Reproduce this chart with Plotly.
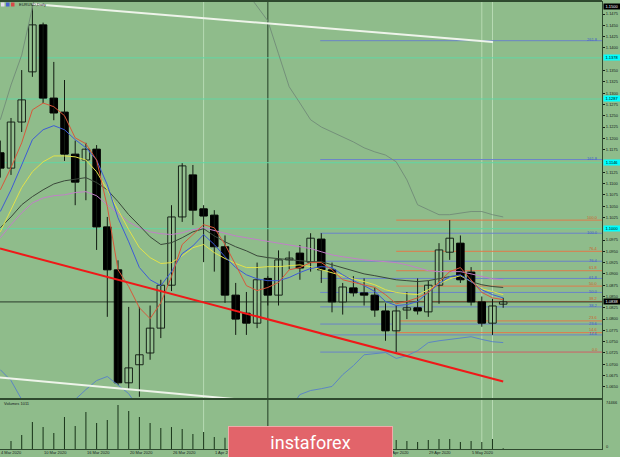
import plotly.graph_objects as go

# ---------------- data ----------------
bar_index = list(range(-1, 47))          # daily bars, 4 Mar 2020 .. 8 May 2020

opens = [1.1168, 1.1134, 1.1236, 1.1347, 1.1451, 1.1289, 1.1258, 1.1165, 1.1152, 1.1176,
         1.1004, 1.0909, 1.0659, 1.0699, 1.0725, 1.0780, 1.0875, 1.1026, 1.1119, 1.1044,
         1.1030, 1.0960, 1.0853, 1.0813, 1.0791, 1.0890, 1.0853, 1.0931, 1.0946, 1.0926,
         1.0977, 1.0909, 1.0838, 1.0869, 1.0858, 1.0853, 1.0818, 1.0774, 1.0820, 1.0825,
         1.0816, 1.0875, 1.0948, 1.0968, 1.0904, 1.0838, 1.0791, 1.0833]
highs = [1.1195, 1.1245, 1.1351, 1.1495, 1.1456, 1.1369, 1.1329, 1.1195, 1.1190, 1.1185,
         1.1026, 1.0930, 1.0827, 1.0827, 1.0830, 1.0887, 1.1052, 1.1145, 1.1141, 1.1052,
         1.1041, 1.0985, 1.0880, 1.0860, 1.0925, 1.0895, 1.0952, 1.0950, 1.0964, 1.0990,
         1.0990, 1.0925, 1.0880, 1.0895, 1.0890, 1.0870, 1.0835, 1.0830, 1.0860, 1.0890,
         1.0885, 1.0968, 1.1019, 1.0985, 1.0915, 1.0850, 1.0845, 1.0847]
lows = [1.1113, 1.1119, 1.1214, 1.1336, 1.1278, 1.1240, 1.1150, 1.1052, 1.1063, 1.0953,
        1.0805, 1.0654, 1.0643, 1.0628, 1.0710, 1.0758, 1.0862, 1.1015, 1.1008, 1.0926,
        1.0905, 1.0836, 1.0765, 1.0765, 1.0780, 1.0830, 1.0830, 1.0910, 1.0887, 1.0905,
        1.0880, 1.0815, 1.0810, 1.0850, 1.0830, 1.0805, 1.0752, 1.0727, 1.0800, 1.0810,
        1.0805, 1.0834, 1.0931, 1.0880, 1.0830, 1.0783, 1.0765, 1.0825]
closes = [1.1134, 1.1236, 1.1285, 1.1451, 1.1289, 1.1256, 1.1165, 1.1103, 1.1176, 1.1004,
          1.0909, 1.0659, 1.0692, 1.0721, 1.0780, 1.0875, 1.1026, 1.1139, 1.1041, 1.1028,
          1.0960, 1.0853, 1.0800, 1.0791, 1.0887, 1.0853, 1.0931, 1.0935, 1.0913, 1.0979,
          1.0909, 1.0838, 1.0871, 1.0858, 1.0853, 1.0820, 1.0774, 1.0818, 1.0825, 1.0818,
          1.0875, 1.0953, 1.0979, 1.0887, 1.0838, 1.0791, 1.0829, 1.0838]
volumes = [None, 12700, 22200, 42800, 34800, 25300, 50700, 36400, 58600, 41200,
           45900, 69700, 60200, 50700, 41200, 33300, 34800, 31700, 23800, 26900,
           19000, 18000, 17000, 15000, 16000, 14000, 13500, 8000, 12000, 14000,
           15000, 13000, 12500, 11000, 11500, 13000, 14500, 14300, 12700, 11100,
           14300, 15800, 15800, 11100, 12700, 11100, 15800, 1011]

ma_red = [1.1086, 1.1135, 1.1190, 1.1263, 1.1278, 1.1270, 1.1250, 1.1201, 1.1188, 1.1152,
          1.1049, 1.0909, 1.0872, 1.0825, 1.0801, 1.0836, 1.0894, 1.0965, 1.0987, 1.1009,
          1.1002, 1.0965, 1.0920, 1.0874, 1.0863, 1.0870, 1.0881, 1.0909, 1.0914, 1.0925,
          1.0925, 1.0909, 1.0887, 1.0881, 1.0876, 1.0870, 1.0854, 1.0834, 1.0839, 1.0847,
          1.0859, 1.0881, 1.0905, 1.0914, 1.0887, 1.0859, 1.0847, 1.0843]
ma_blue = [1.1038, 1.1086, 1.1141, 1.1197, 1.1219, 1.1228, 1.1219, 1.1197, 1.1179, 1.1152,
           1.1097, 1.1024, 1.0971, 1.0914, 1.0887, 1.0874, 1.0905, 1.0945, 1.0962, 1.0987,
           1.0965, 1.0938, 1.0914, 1.0898, 1.0889, 1.0885, 1.0885, 1.0892, 1.0903, 1.0912,
           1.0916, 1.0914, 1.0898, 1.0885, 1.0874, 1.0861, 1.0839, 1.0830, 1.0832, 1.0839,
           1.0859, 1.0878, 1.0894, 1.0898, 1.0883, 1.0865, 1.0854, 1.0847]
ma_yellow = [1.0993, 1.1042, 1.1091, 1.1126, 1.1148, 1.1161, 1.1161, 1.1159, 1.1152, 1.1126,
             1.1086, 1.1042, 1.0998, 1.0958, 1.0936, 1.0923, 1.0925, 1.0940, 1.0958, 1.0965,
             1.0947, 1.0934, 1.0923, 1.0914, 1.0914, 1.0916, 1.0916, 1.0918, 1.0920, 1.0916,
             1.0909, 1.0903, 1.0896, 1.0889, 1.0883, 1.0876, 1.0865, 1.0859, 1.0856, 1.0854,
             1.0865, 1.0878, 1.0889, 1.0896, 1.0883, 1.0867, 1.0861, 1.0854]
ma_dark = [1.1002, 1.1026, 1.1053, 1.1071, 1.1086, 1.1099, 1.1106, 1.1110, 1.1113, 1.1102,
           1.1086, 1.1060, 1.1031, 1.1007, 1.0982, 1.0965, 1.0969, 1.0980, 1.0993, 1.1000,
           1.0984, 1.0971, 1.0960, 1.0951, 1.0940, 1.0936, 1.0934, 1.0931, 1.0929, 1.0927,
           1.0927, 1.0920, 1.0914, 1.0907, 1.0900, 1.0896, 1.0892, 1.0887, 1.0885, 1.0883,
           1.0885, 1.0889, 1.0894, 1.0896, 1.0883, 1.0876, 1.0872, 1.0870]
ma_violet = [1.0980, 1.1009, 1.1035, 1.1057, 1.1068, 1.1073, 1.1075, 1.1080, 1.1082, 1.1073,
             1.1053, 1.1033, 1.1015, 1.1002, 1.0993, 1.0989, 1.0987, 1.0991, 1.0998, 1.1002,
             1.0996, 1.0989, 1.0984, 1.0980, 1.0976, 1.0973, 1.0969, 1.0965, 1.0960, 1.0956,
             1.0949, 1.0942, 1.0938, 1.0934, 1.0931, 1.0929, 1.0927, 1.0925, 1.0920, 1.0914,
             1.0907, 1.0905, 1.0905, 1.0905, 1.0900, 1.0894, 1.0889, 1.0887]
band_upper = [1.1241, 1.1318, 1.1384, 1.1495, 1.1595,
              None, None, None, None, None, None, None, None, None,
              None, None, None, None, None, None, None, None, None,
              1.1524, 1.1491, 1.1460, 1.1387, 1.1314, 1.1278, 1.1241, 1.1225, 1.1214, 1.1203,
              1.1192, 1.1179, 1.1170, 1.1163, 1.1148, 1.1108, 1.1053, 1.1042, 1.1031, 1.1031,
              1.1035, 1.1038, 1.1038, 1.1031, 1.1026]
band_lower = [1.0688, 1.0664, 1.0622, 1.0578, None, None, 1.0578, 1.0622, 1.0644, 1.0664,
              1.0673, 1.0653, 1.0635, 1.0600,
              None, None, None, None, None, None, None, None, None, None, None, None,
              1.0578, 1.0600, 1.0633, 1.0642, 1.0646, 1.0651, 1.0677, 1.0697, 1.0721, 1.0724,
              1.0726, 1.0713, 1.0719, 1.0730, 1.0748, 1.0752, 1.0755, 1.0757, 1.0761, 1.0755,
              1.0750, 1.0748]

level_lines = [1.1378, 1.1287, 1.1146, 1.1000]
level_text = ["1.1378", "1.1287", "1.1146", "1.1000"]
current_price = 1.0838
current_text = "1.0838"
top_text = "1.1500"

fib_blue_start = 28.9
fib_blue_levels = [1.0727, 1.0765, 1.0789, 1.0827, 1.0859, 1.0890, 1.0928, 1.0990, 1.1153, 1.1416]
fib_blue_text = ["", "14.6", "23.6", "38.2", "50.0", "61.8", "76.4", "100.0", "161.8", "261.8"]
fib_orange_start = 36.0
fib_orange_levels = [1.0727, 1.0770, 1.0796, 1.0839, 1.0873, 1.0907, 1.0950, 1.1019]
fib_orange_text = ["0.0", "14.6", "23.6", "38.2", "50.0", "61.8", "76.4", "100.0"]

trend_red_x = [-1.03, 46.0]
trend_red_y = [1.0956, 1.0662]
trend_upper_x = [2.0, 45.05]
trend_upper_y = [1.1497, 1.1413]
trend_lower_x = [-1.03, 21.4]
trend_lower_y = [1.0671, 1.0622]

vline_light = [18, 44, 45]
vline_dark = [24]

# visible price-scale labels (those hidden under the cyan boxes are left out)
price_tick_text = ["1.0650", "1.0675", "1.0700", "1.0725", "1.0750", "1.0775", "1.0800",
                   "1.0825", "1.0850", "1.0875", "1.0900", "1.0925", "1.0950", "1.0975",
                   "1.1025", "1.1050", "1.1075", "1.1100", "1.1125",
                   "1.1175", "1.1200", "1.1225", "1.1250", "1.1275", "1.1300", "1.1325",
                   "1.1350", "1.1400", "1.1425", "1.1450", "1.1475"]
# visible date labels (the ones fully hidden by the badge are left out)
date_idx = [-1, 3, 7, 11, 15, 19, 35, 39, 43]
date_text = ["4 Mar 2020", "10 Mar 2020", "16 Mar 2020", "20 Mar 2020", "26 Mar 2020",
             "1 Apr 2020", "23 Apr 2020", "29 Apr 2020", "5 May 2020"]
vol_top_text = "74466"
title_text = "EURUSD,Daily"
vol_title = "Volumes 1011"

# ---------------- styling / layout helpers ----------------
BG = "#8fbc8b"
FG = "#15211a"
FRAME = "#2f4a2f"
H = 457
PW = 602
XMIN, XMAX = -1.028, 55.234
YMIN, YMAX = 1.06254, 1.15016


def ypx(p):
    return (H - p) / H


def xpx(p):
    return p / PW


fig = go.Figure()

# volume histogram
fig.add_trace(go.Bar(x=bar_index, y=volumes, width=0.1,
                     marker=dict(color="#1e3a1e", line=dict(width=0)),
                     xaxis="x2", yaxis="y2", hoverinfo="skip"))

# candle wicks
wx, wy = [], []
for i, h, l in zip(bar_index, highs, lows):
    wx += [i, i, None]
    wy += [l, h, None]
fig.add_trace(go.Scatter(x=wx, y=wy, mode="lines", line=dict(color="#111a11", width=1),
                         hoverinfo="skip"))

# candle bodies
bases = [min(o, c) for o, c in zip(opens, closes)]
sizes = [max(abs(c - o), 0.00008) for o, c in zip(opens, closes)]
fills = ["#94c190" if c >= o else "#000000" for o, c in zip(opens, closes)]
edges = ["#18241a" if c >= o else "#000000" for o, c in zip(opens, closes)]
fig.add_trace(go.Bar(x=bar_index, y=sizes, base=bases, width=0.7,
                     marker=dict(color=fills, line=dict(color=edges, width=1)),
                     hoverinfo="skip"))

# indicator lines
for vals, col in [(ma_violet, "#c27fc8"), (ma_dark, "#3a483a"), (ma_yellow, "#e2e24a"),
                  (ma_blue, "#3d5bd6"), (ma_red, "#d8583a"),
                  (band_upper, "#74907a"), (band_lower, "#5c85c4")]:
    fig.add_trace(go.Scatter(x=bar_index, y=vals, mode="lines", connectgaps=False,
                             line=dict(color=col, width=1), hoverinfo="skip"))

# trend lines
fig.add_trace(go.Scatter(x=trend_upper_x, y=trend_upper_y, mode="lines",
                         line=dict(color="#eef4ea", width=2), hoverinfo="skip"))
fig.add_trace(go.Scatter(x=trend_lower_x, y=trend_lower_y, mode="lines",
                         line=dict(color="#eef4ea", width=2), hoverinfo="skip"))
fig.add_trace(go.Scatter(x=trend_red_x, y=trend_red_y, mode="lines",
                         line=dict(color="#f01818", width=2), hoverinfo="skip"))

shapes = []
for lv in level_lines:
    shapes.append(dict(type="line", xref="x", yref="y", x0=XMIN, x1=XMAX, y0=lv, y1=lv,
                       line=dict(color="#62d6a4", width=1), layer="below"))
for lv in fib_blue_levels:
    shapes.append(dict(type="line", xref="x", yref="y", x0=fib_blue_start, x1=XMAX, y0=lv, y1=lv,
                       line=dict(color="#6a84c8", width=1), layer="below"))
for lv in fib_orange_levels:
    shapes.append(dict(type="line", xref="x", yref="y", x0=fib_orange_start, x1=XMAX, y0=lv, y1=lv,
                       line=dict(color="#e07a4a", width=1), layer="below"))
shapes.append(dict(type="line", xref="x", yref="y", x0=XMIN, x1=XMAX, y0=current_price,
                   y1=current_price, line=dict(color="#2a3a2a", width=1), layer="below"))
for v in vline_light:
    shapes.append(dict(type="line", xref="x", yref="paper", x0=v, x1=v, y0=ypx(449), y1=ypx(2),
                       line=dict(color="#b7dab3", width=1), layer="below"))
for v in vline_dark:
    shapes.append(dict(type="line", xref="x", yref="paper", x0=v, x1=v, y0=ypx(449), y1=ypx(2),
                       line=dict(color="#3b5a3b", width=1.3), layer="below"))
shapes.append(dict(type="line", xref="paper", yref="paper", x0=0, x1=1, y0=ypx(0.8), y1=ypx(0.8),
                   line=dict(color=FRAME, width=2)))
# title icons
for k, col in enumerate(["#e6dcef", "#4a62d0", "#d84848"]):
    shapes.append(dict(type="rect", xref="paper", yref="paper",
                       x0=xpx(1 + 5 * k), x1=xpx(4.5 + 5 * k), y0=ypx(6.5), y1=ypx(2.5),
                       fillcolor=col, line=dict(width=0)))

ann = []
small = dict(family="Liberation Sans", size=4, color=FG)
for lv, t in zip(level_lines, level_text):
    ann.append(dict(xref="paper", yref="y", x=1, y=lv, xanchor="left", xshift=1, text=t,
                    showarrow=False, bgcolor="#00ffff", width=16, height=5, borderpad=0,
                    font=dict(family="Liberation Sans", size=4, color="#000000")))
ann.append(dict(xref="paper", yref="y", x=1, y=current_price, xanchor="left", xshift=1,
                text=current_text, showarrow=False, bgcolor="#000000", width=16, height=5,
                borderpad=0, font=dict(family="Liberation Sans", size=4, color="#ffffff")))
ann.append(dict(xref="paper", yref="paper", x=1, y=ypx(3), xanchor="left", xshift=1,
                text=top_text, showarrow=False, bgcolor="#000000", width=16, height=5,
                borderpad=0, font=dict(family="Liberation Sans", size=4, color="#ffffff")))
for lv, t in zip(fib_blue_levels, fib_blue_text):
    if t:
        ann.append(dict(xref="paper", yref="y", x=xpx(600), y=lv, xanchor="right",
                        yanchor="middle", yshift=1, text=t, showarrow=False,
                        font=dict(family="Liberation Sans", size=4, color="#3e5cc8")))
for lv, t in zip(fib_orange_levels, fib_orange_text):
    ann.append(dict(xref="paper", yref="y", x=xpx(600), y=lv, xanchor="right", yanchor="middle",
                    yshift=3, text=t, showarrow=False,
                    font=dict(family="Liberation Sans", size=4, color="#d0602a")))
for xi, t in zip(date_idx, date_text):
    ann.append(dict(xref="x2", yref="paper", x=xi, y=ypx(452.5), xanchor="left",
                    yanchor="middle", xshift=-1, text=t, showarrow=False, font=small))
ann.append(dict(xref="paper", yref="paper", x=xpx(17), y=ypx(4.6), xanchor="left",
                yanchor="middle", text=title_text, showarrow=False, font=small))
ann.append(dict(xref="paper", yref="paper", x=xpx(2), y=ypx(403.5), xanchor="left",
                yanchor="middle", text=vol_title, showarrow=False, font=small))
ann.append(dict(xref="paper", yref="paper", x=1, y=ypx(402), xanchor="left", xshift=2,
                yanchor="middle", text=vol_top_text, showarrow=False, font=small))
ann.append(dict(xref="paper", yref="paper", x=1, y=ypx(446), xanchor="left", xshift=2,
                yanchor="middle", text="0", showarrow=False, font=small))
# instaforex badge (drawn last so it covers what lies beneath it)
ann.append(dict(xref="paper", yref="paper", x=xpx(310.5), y=ypx(442), xanchor="center",
                yanchor="middle", text="instaforex", showarrow=False, width=163, height=30,
                bgcolor="#e2646a", bordercolor="#f1aaaa", borderwidth=1, borderpad=0,
                font=dict(family="Roboto", size=18, color="#ffffff")))

fig.update_layout(
    width=620, height=457, margin=dict(l=0, r=18, t=0, b=0),
    paper_bgcolor=BG, plot_bgcolor=BG, showlegend=False, barmode="overlay",
    font=small,
    xaxis=dict(domain=[0, 1], range=[XMIN, XMAX], anchor="y", showticklabels=False,
               showgrid=False, zeroline=False, showline=True, linecolor=FRAME, linewidth=1,
               mirror=True, ticks="", rangeslider=dict(visible=False)),
    xaxis2=dict(domain=[0, 1], range=[XMIN, XMAX], anchor="y2", showticklabels=False,
                showgrid=False, zeroline=False, showline=True, linecolor=FRAME, linewidth=1,
                mirror=True, ticks=""),
    yaxis=dict(domain=[ypx(398), ypx(2)], range=[YMIN, YMAX], side="right", anchor="x",
               tickmode="array", tickvals=[float(t) for t in price_tick_text],
               ticktext=price_tick_text, ticks="outside", ticklen=2, tickcolor=FG,
               tickfont=dict(family="Liberation Sans", size=4, color=FG),
               showgrid=False, zeroline=False, showline=True, linecolor=FRAME, linewidth=1),
    yaxis2=dict(domain=[ypx(449), ypx(400)], range=[0, 77600], side="right", anchor="x2",
                showticklabels=False, showgrid=False, zeroline=False, showline=True,
                linecolor=FRAME, linewidth=1, ticks=""),
    shapes=shapes, annotations=ann,
)

fig.write_html("out.html",
               config={"displayModeBar": False, "staticPlot": True},
               post_script="document.body.style.margin='0px';"
                           "document.body.style.overflow='hidden';")
